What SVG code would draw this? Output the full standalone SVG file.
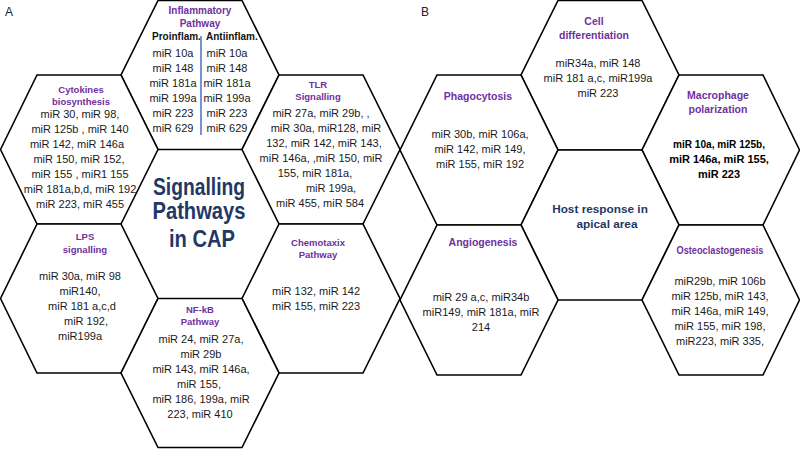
<svg xmlns="http://www.w3.org/2000/svg" width="800" height="449" viewBox="0 0 800 449">
<style>
.hex{fill:#fff;stroke:#000;stroke-width:1.6}
text{font-family:"Liberation Sans",Arial,sans-serif;text-anchor:middle;fill:#1a1a1a;font-size:11px}
.ttl{font-weight:bold;fill:#7030A0;font-size:9.5px}
.ttlb{font-weight:bold;fill:#7030A0;font-size:10.5px}
.sub{font-weight:bold;fill:#111;font-size:10px;text-anchor:start}
.big{font-weight:bold;fill:#1F3864;font-size:23px}
.hr{font-weight:bold;fill:#1F3864;font-size:11.8px}
.bold{font-weight:bold;fill:#000}
.lab{font-size:12px;text-anchor:start;fill:#222}
</style>
<text class="lab" x="5" y="16">A</text>
<text class="lab" x="421" y="16">B</text>

<g id="inflammatory">
<polygon class="hex" points="158,0.5 242,0.5 279,75 242,149.5 158,149.5 121,75"/>
<text class="ttl" style="font-size:10px" x="200" y="14">Inflammatory</text>
<text class="ttl" style="font-size:10px" x="200" y="27">Pathway</text>
<text class="sub" x="152" y="40">Proinflam.</text>
<text class="sub" x="206" y="40">Antiinflam.</text>
<line x1="201" y1="36" x2="201" y2="135" stroke="#4472C4" stroke-width="1.5"/>
<text x="173" y="57">miR 10a</text><text x="227" y="57">miR 10a</text>
<text x="173" y="72">miR 148</text><text x="227" y="72">miR 148</text>
<text x="173" y="87">miR 181a</text><text x="227" y="87">miR 181a</text>
<text x="173" y="102">miR 199a</text><text x="227" y="102">miR 199a</text>
<text x="173" y="117">miR 223</text><text x="227" y="117">miR 223</text>
<text x="173" y="132">miR 629</text><text x="227" y="132">miR 629</text>
</g>

<g id="cytokines">
<polygon class="hex" points="37,75 121,75 158,149.5 121,224 37,224 0.5,149.5"/>
<text class="ttl" x="81" y="93">Cytokines</text>
<text class="ttl" x="81" y="105">biosynthesis</text>
<text x="80" y="118">miR 30, miR 98,</text>
<text x="80" y="133">miR 125b , miR 140</text>
<text x="77" y="148">miR 142, miR 146a</text>
<text x="79" y="163">miR 150, miR 152,</text>
<text x="80" y="178">miR 155 ,  miR1 155</text>
<text x="80" y="193">miR 181a,b,d, miR 192</text>
<text x="80" y="208">miR 223, miR 455</text>
</g>

<g id="tlr">
<polygon class="hex" points="279,75 363,75 400,149.5 363,224 279,224 242,149.5"/>
<text class="ttl" x="318" y="88">TLR</text>
<text class="ttl" x="318" y="100">Signalling</text>
<text x="321" y="117">miR 27a, miR 29b, ,</text>
<text x="326" y="132">miR 30a, miR128, miR</text>
<text x="324" y="147">132, miR 142, miR 143,</text>
<text x="321" y="162">miR 146a, ,miR 150, miR</text>
<text x="315" y="177">155, miR 181a,</text>
<text x="331" y="192">miR 199a,</text>
<text x="320" y="207">miR 455, miR 584</text>
</g>

<g id="signalling-center">
<text class="big" x="199" y="195" textLength="92" lengthAdjust="spacingAndGlyphs">Signalling</text>
<text class="big" x="199" y="219" textLength="93" lengthAdjust="spacingAndGlyphs">Pathways</text>
<text class="big" x="202" y="247" textLength="66" lengthAdjust="spacingAndGlyphs">in  CAP</text>
</g>

<g id="lps">
<polygon class="hex" points="37,224 121,224 158,298.5 121,373 37,373 0.5,298.5"/>
<text class="ttl" x="85" y="240">LPS</text>
<text class="ttl" x="85" y="253">signalling</text>
<text x="80" y="280">miR 30a, miR 98</text>
<text x="80" y="295">miR140,</text>
<text x="82" y="310">miR 181 a,c,d</text>
<text x="86" y="325">miR 192,</text>
<text x="80" y="340">miR199a</text>
</g>

<g id="chemotaxix">
<polygon class="hex" points="279,224 363,224 400,298.5 363,373 279,373 242,298.5"/>
<text class="ttl" x="318" y="246">Chemotaxix</text>
<text class="ttl" x="318" y="258">Pathway</text>
<text x="316" y="295">miR 132, miR 142</text>
<text x="316" y="310">miR 155, miR 223</text>
</g>

<g id="nfkb">
<polygon class="hex" points="158,298.5 242,298.5 279,373 242,447.5 158,447.5 121,373"/>
<text class="ttl" x="200" y="313">NF-kB</text>
<text class="ttl" x="200" y="325">Pathway</text>
<text x="201" y="343">miR 24, miR 27a,</text>
<text x="201" y="358">miR 29b</text>
<text x="201" y="373">miR 143, miR 146a,</text>
<text x="199" y="388">miR 155,</text>
<text x="201" y="403">miR 186, 199a, miR</text>
<text x="200" y="418">223, miR 410</text>
</g>

<g id="cell-differentiation">
<polygon class="hex" points="558,0.5 642,0.5 679,75 642,150 558,150 521,75"/>
<text class="ttlb" x="594" y="25">Cell</text>
<text class="ttlb" x="594" y="39">differentiation</text>
<text x="598" y="67">miR34a, miR 148</text>
<text x="598" y="82">miR 181 a,c, miR199a</text>
<text x="598" y="97">miR 223</text>
</g>

<g id="phagocytosis">
<polygon class="hex" points="437,75 521,75 558,150 521,225 437,225 400,150"/>
<text class="ttlb" x="478" y="100">Phagocytosis</text>
<text x="480" y="138">miR 30b, miR 106a,</text>
<text x="480" y="153">miR 142, miR 149,</text>
<text x="480" y="168">miR 155, miR 192</text>
</g>

<g id="macrophage-polarization">
<polygon class="hex" points="679,75 763,75 799.5,150 763,225 679,225 642,150"/>
<text class="ttlb" x="718" y="99">Macrophage</text>
<text class="ttlb" x="718" y="113">polarization</text>
<text class="bold" x="719" y="148" textLength="92" lengthAdjust="spacingAndGlyphs">miR 10a, miR 125b,</text>
<text class="bold" x="719" y="163">miR 146a, miR 155,</text>
<text class="bold" x="719" y="178">miR 223</text>
</g>

<g id="host-response">
<polygon class="hex" points="558,150 642,150 679,225 642,300 558,300 521,225"/>
<text class="hr" x="600" y="213">Host response in</text>
<text class="hr" x="607" y="228">apical area</text>
</g>

<g id="angiogenesis">
<polygon class="hex" points="437,225 521,225 558,300 521,375 437,375 400,300"/>
<text class="ttlb" x="483" y="246">Angiogenesis</text>
<text x="481" y="301">miR 29 a,c, miR34b</text>
<text x="481" y="316">miR149, miR 181a, miR</text>
<text x="481" y="331">214</text>
</g>

<g id="osteoclastogenesis">
<polygon class="hex" points="679,225 763,225 799.5,300 763,375 679,375 642,300"/>
<text class="ttlb" x="720" y="254" textLength="87" lengthAdjust="spacingAndGlyphs">Osteoclastogenesis</text>
<text x="720" y="285">miR29b, miR 106b</text>
<text x="720" y="300">miR 125b, miR 143,</text>
<text x="720" y="315">miR 146a, miR 149,</text>
<text x="720" y="330">miR 155, miR 198,</text>
<text x="720" y="345">miR223, miR 335,</text>
</g>

<g id="connectors"/>
</svg>
